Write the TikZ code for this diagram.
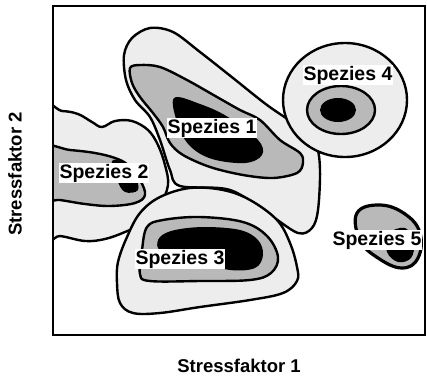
\documentclass[tikz,border=0pt]{standalone}
\usepackage{fontspec}
\setmainfont{Liberation Sans}
\usetikzlibrary{positioning}

\begin{document}
\begin{tikzpicture}[x=1pt, y=-1pt,
  zone/.style={draw, line width=2.4pt, fill=gray!14},
  dense/.style={draw, line width=2.4pt, fill=gray!55},
  core/.style={fill=black},
  spec/.style={fill=white, inner sep=1pt, font=\fontsize{19.5}{21}\selectfont\bfseries},
  axis/.style={font=\fontsize{18.5}{20}\selectfont\bfseries}]
\useasboundingbox (0,0) rectangle (427,378);
\begin{scope}
\clip (53,6) rectangle (425,335);
% Spezies 2
\draw[zone] plot[smooth cycle, tension=0.6] coordinates {(40,112) (62,111) (78,114) (92,122) (102,127) (115,121) (132,121) (148,130) (158,145) (165,165) (168,185) (160,205) (145,222) (125,232) (105,239) (85,241) (60,236) (40,236)};
% Spezies 1
\draw[zone] plot[smooth cycle, tension=0.55] coordinates {(150,28) (173,32) (200,52) (233,78) (267,105) (300,128) (316,145) (320,170) (318,210) (312,228) (298,233) (270,215) (230,190) (180,186) (170,170) (160,140) (150,117) (135,100) (126,80) (124,55) (132,38)};
% Spezies 3
\draw[zone] plot[smooth cycle, tension=0.6] coordinates {(117,283) (118,262) (127,237) (140,213) (160,197) (190,188) (223,190) (250,200) (277,220) (290,243) (297,267) (297,281) (283,293) (250,300) (200,307) (160,313) (133,313) (120,303)};
% Spezies 4
\draw[zone] (345,100) ellipse [x radius=62pt, y radius=57pt];
% dichte Bereiche
\draw[dense] plot[smooth cycle, tension=0.6] coordinates {(40,148) (70,150) (95,153) (115,158) (128,165) (140,180) (145,195) (135,203) (110,206) (85,204) (60,200) (40,198)};
\draw[dense] plot[smooth cycle, tension=0.55] coordinates {(130,68) (140,65) (160,67) (187,80) (217,97) (240,110) (260,120) (280,140) (300,153) (303,163) (297,173) (273,178) (243,175) (210,167) (183,155) (170,143) (163,127) (153,113) (140,97) (132,83)};
\draw[dense] plot[smooth cycle, tension=0.6] coordinates {(147,227) (163,220) (200,217) (243,222) (267,236) (278,257) (271,273) (250,280) (200,281) (150,281) (140,274) (142,250)};
\draw[dense] (341,110) ellipse [x radius=34pt, y radius=24pt];
\draw[dense, line width=3.2pt] plot[smooth cycle, tension=0.7] coordinates {(357,213) (380,205) (405,214) (420,233) (418,258) (402,268) (378,258) (360,240)};
% Kerne
\fill[core] plot[smooth cycle, tension=0.6] coordinates {(112,161) (125,163) (135,175) (138,190) (125,192) (117,180)};
\fill[core] plot[smooth cycle, tension=0.6] coordinates {(174,98) (200,104) (228,117) (258,140) (262,155) (245,163) (212,159) (190,146) (178,125)};
\fill[core] plot[smooth cycle, tension=0.6] coordinates {(160,237) (175,230) (205,227) (240,230) (258,240) (263,255) (255,268) (230,270) (200,262) (170,255) (158,248)};
\fill[core] (338,110) ellipse [x radius=18pt, y radius=12pt];
\fill[core] plot[smooth cycle, tension=0.6] coordinates {(388,234) (405,228) (414,242) (411,258) (398,262) (387,252)};
\end{scope}
\draw[line width=1.6pt] (53,6) rectangle (425,335);
\node[spec] (s1) at (212,128) {Spezies 1};
\node[spec] (s2) at (104,173) {Spezies 2};
\node[spec] (s3) at (180,259) {Spezies 3};
\node[spec] (s4) at (348,75) {Spezies 4};
\node[spec] (s5) at (377,240) {Spezies 5};
\node[axis] (ax1) at (239,366) {Stressfaktor 1};
\node[axis, rotate=90] (ax2) at (15,174) {Stressfaktor 2};
\end{tikzpicture}
\end{document}
